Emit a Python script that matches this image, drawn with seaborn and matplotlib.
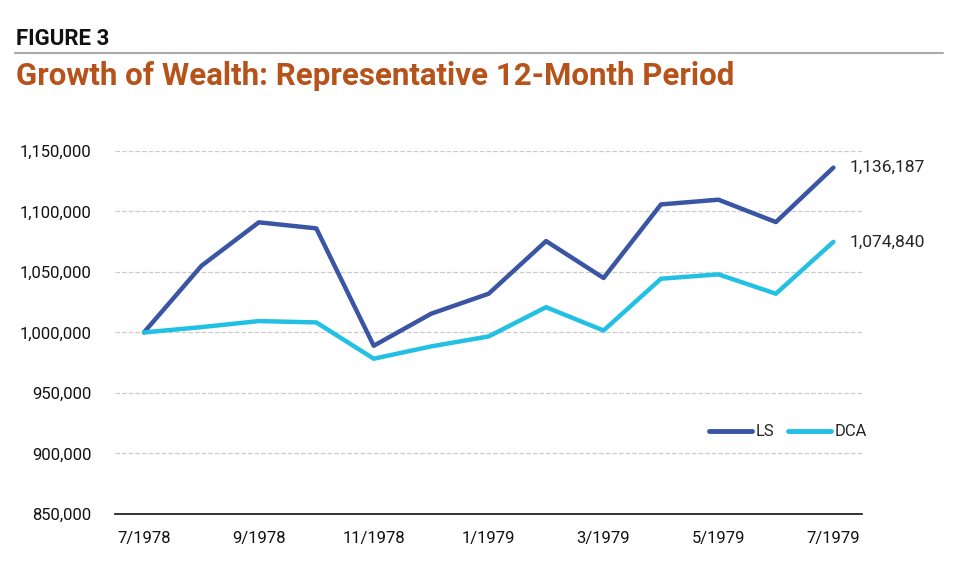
import pandas as pd
import seaborn as sns
import matplotlib.pyplot as plt
from matplotlib.ticker import FuncFormatter

# Dados
meses = ["7/1978", "8/1978", "9/1978", "10/1978", "11/1978", "12/1978", "1/1979",
         "2/1979", "3/1979", "4/1979", "5/1979", "6/1979", "7/1979"]
ls_vals = [1000000, 1055000, 1091000, 1086000, 989000, 1015500, 1032000,
           1075500, 1045000, 1105800, 1109700, 1091200, 1136187]
dca_vals = [1000000, 1004400, 1009400, 1008300, 978300, 988500, 996700,
            1020900, 1001600, 1044400, 1048000, 1032000, 1074840]
rotulos_x = ["7/1978", "9/1978", "11/1978", "1/1979", "3/1979", "5/1979", "7/1979"]
ticks_y = [850000, 900000, 950000, 1000000, 1050000, 1100000, 1150000]

cores = {"LS": "#3A55A4", "DCA": "#22C0E3"}

df = pd.DataFrame({
    "pos": list(range(len(meses))) * 2,
    "valor": ls_vals + dca_vals,
    "serie": ["LS"] * len(meses) + ["DCA"] * len(meses),
})

sns.set_style("white")
plt.rcParams["font.family"] = ["Roboto", "DejaVu Sans"]

fig = plt.figure(figsize=(9.6, 5.8), dpi=100)
ax = fig.add_axes([0.12, 0.1138, 0.778, 0.626])

sns.lineplot(data=df, x="pos", y="valor", hue="serie", palette=cores,
             linewidth=3.2, ax=ax, legend=True)

# Eixos
ax.set_xlim(-0.5, len(meses) - 0.5)
ax.set_ylim(850000, 1150000)
ax.set_yticks(ticks_y)
ax.yaxis.set_major_formatter(FuncFormatter(lambda v, p: f"{int(v):,}"))
ax.tick_params(axis="y", length=0, pad=17, labelsize=12, labelcolor="#111111")

ax.set_xticks([i - 0.5 for i in range(0, len(meses), 2)])
ax.set_xticklabels([])
ax.set_xticks(list(range(0, len(meses), 2)), minor=True)
ax.set_xticklabels(rotulos_x, minor=True)
ax.tick_params(axis="x", which="major", length=7, width=1.2, color="#111111", direction="out")
ax.tick_params(axis="x", which="minor", length=0, pad=12, labelsize=12, labelcolor="#111111")
ax.set_xlabel("")
ax.set_ylabel("")

ax.grid(axis="y", linestyle="--", color="#CBCBCB", linewidth=0.9)
for s in ["top", "right", "left"]:
    ax.spines[s].set_visible(False)
ax.spines["bottom"].set_color("#111111")
ax.spines["bottom"].set_linewidth(1.2)

# Valores finais
ax.text(12.28, ls_vals[-1], f"{ls_vals[-1]:,}", fontsize=12.5, va="center", ha="left", clip_on=False)
ax.text(12.28, dca_vals[-1], f"{dca_vals[-1]:,}", fontsize=12.5, va="center", ha="left", clip_on=False)

# Legenda
leg = ax.legend(loc="center left", bbox_to_anchor=(0.775, 0.226), ncol=2, frameon=False,
                fontsize=12, handlelength=2.6, handletextpad=0.2, columnspacing=0.8)
for h in leg.get_lines():
    h.set_linewidth(3.5)

# Titulos
fig.text(0.017, 0.922, "FIGURE 3", fontsize=16, fontweight="bold", color="#111111")
fig.add_artist(plt.Line2D([0.016, 0.982], [0.909, 0.909], color="#AAAAAA", linewidth=1.5))
fig.text(0.017, 0.853, "Growth of Wealth: Representative 12-Month Period",
         fontsize=22.5, fontweight="bold", color="#B5531A")

fig.savefig("out.png", dpi=100)
